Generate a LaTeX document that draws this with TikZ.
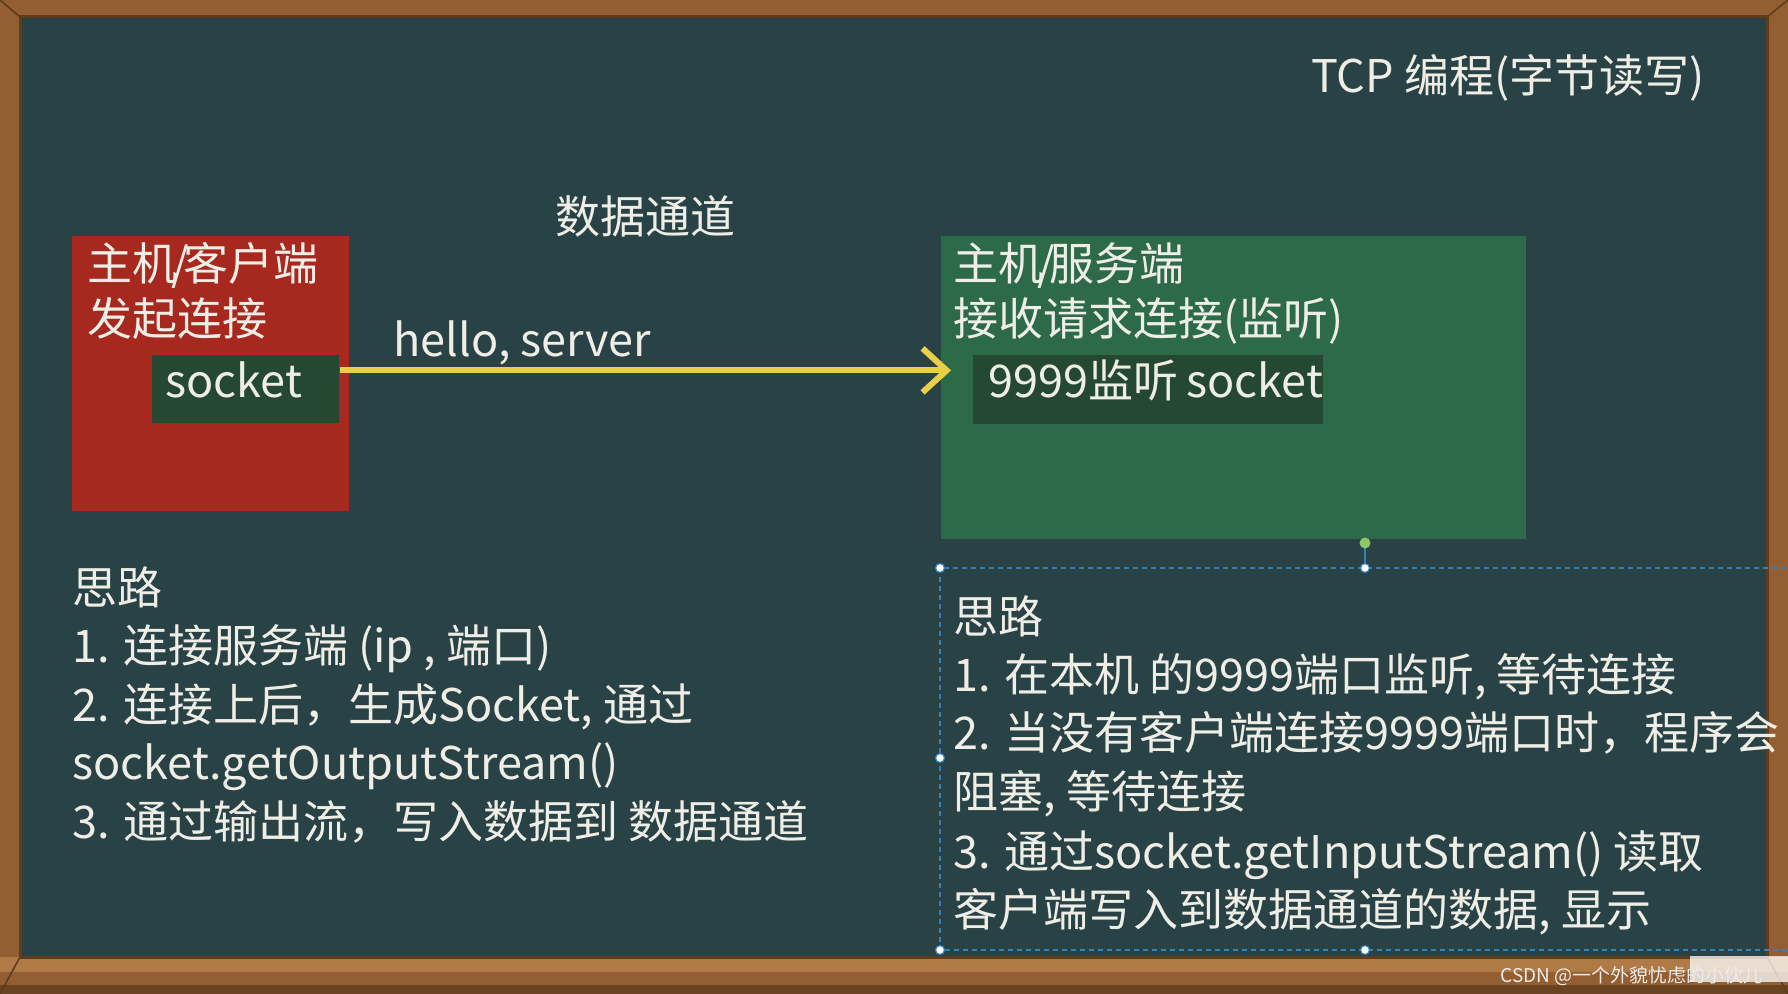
\documentclass[tikz,border=0pt]{standalone}
\usepackage{fontspec}
\setmainfont{Noto Sans CJK SC}
\usetikzlibrary{arrows.meta}
\definecolor{board}{RGB}{41,66,69}
\definecolor{wood}{RGB}{146,94,50}
\definecolor{wooddark}{RGB}{96,60,30}
\definecolor{woodlight}{RGB}{176,122,70}
\definecolor{redbox}{RGB}{166,40,30}
\definecolor{greenbox}{RGB}{44,106,72}
\definecolor{sockdark}{RGB}{36,72,50}
\definecolor{chalk}{RGB}{238,238,230}
\definecolor{yarrowc}{RGB}{234,208,72}
\definecolor{selblue}{RGB}{52,128,186}
\definecolor{handlegreen}{RGB}{140,200,100}
\newcommand{\slsh}{\kern-3pt/\kern-3pt}
\begin{document}
\begin{tikzpicture}[x=0.5pt,y=-0.5pt,
  txt/.style={text=chalk, font=\fontsize{22.5}{27}\selectfont, inner sep=0pt, anchor=base west},
  box/.style={inner sep=0pt, anchor=north west, draw=none},
  yarrow/.style={draw=yarrowc, line width=3pt, -{Straight Barb[length=12pt,width=22pt,line width=3pt]}},
  selbox/.style={draw=selblue, line width=0.8pt, dash pattern=on 2.5pt off 2pt},
  handle/.style={circle, fill=white, draw=selblue, line width=0.6pt, inner sep=0pt, minimum size=4.5pt},
]
\useasboundingbox (0,0) rectangle (1788,994);
% wooden frame
\fill[wood] (0,0) rectangle (1788,994);
\fill[woodlight] (0,957) rectangle (1788,972);
\fill[wooddark!80!wood] (0,985) rectangle (1788,994);
\draw[wooddark, line width=0.8pt] (0,0) -- (20,17) (1788,0) -- (1767,17) (0,994) -- (20,957) (1788,994) -- (1767,957);
\fill[board] (20,17) rectangle (1767,957);
\draw[wooddark, line width=1.5pt] (20,17) rectangle (1767,957);

% title
\node[txt, anchor=base east] (title) at (1705,93) {TCP 编程(字节读写)};
\node[txt, anchor=base] (chan) at (645,234) {数据通道};

% client box
\node[box, fill=redbox, minimum width=138.5pt, minimum height=137.5pt] (client) at (72,236) {};
\node[txt] (clientA) at (87,281) {主机\slsh 客户端};
\node[txt] (clientB) at (87,336) {发起连接};
\node[box, fill=sockdark, minimum width=93.5pt, minimum height=34pt] (sockL) at (152,355) {};
\node[txt] (sockLt) at (165,398) {socket};

% server box
\node[box, fill=greenbox, minimum width=292.5pt, minimum height=151.5pt] (server) at (941,236) {};
\node[txt] (serverA) at (953,281) {主机\slsh 服务端};
\node[txt] (serverB) at (953,336) {接收请求连接(监听)};
\node[box, fill=sockdark, minimum width=175pt, minimum height=34.5pt] (sockR) at (973,355) {};
\node[txt] (sockRt) at (988,398) {9999监听\kern-1pt{} socket};

% arrow
\node[txt] (hello) at (393,357) {hello, server};
\draw[yarrow] ([yshift=9.5pt]sockL.east) -- ([xshift=5pt,yshift=8.75pt]server.west);

% left list
\node[txt] (l0) at (72,604) {思路};
\node[txt] (l1) at (72,662) {1. 连接服务端 (ip , 端口)};
\node[txt] (l2) at (72,721) {2. 连接上后，生成Socket, 通过};
\node[txt] (l3) at (72,779) {socket.getOutputStream()};
\node[txt] (l4) at (72,838) {3. 通过输出流，写入数据到 数据通道};

% selection box
\begin{scope}
\clip (0,0) rectangle (1788,994);
\draw[selbox] (940,568) rectangle (1800,950);
\end{scope}
\coordinate (rot) at (1365,543);
\node[handle] (hTL) at (940,568) {};
\node[handle] (hT) at (1365,568) {};
\node[handle] (hL) at (940,758) {};
\node[handle] (hBL) at (940,950) {};
\node[handle] (hB) at (1365,950) {};
\draw[selblue, line width=0.6pt] (rot) -- (hT);
\node[circle, fill=handlegreen, inner sep=0pt, minimum size=5.5pt] (hRot) at (rot) {};

% right list
\node[txt] (r0) at (953,633) {思路};
\node[txt] (r1) at (953,691) {1. 在本机 的9999端口监听, 等待连接};
\node[txt] (r2) at (953,749) {2. 当没有客户端连接9999端口时，程序会};
\node[txt] (r3) at (953,808) {阻塞, 等待连接};
\node[txt] (r4) at (953,868) {3. 通过socket.getInputStream() 读取};
\node[txt] (r5) at (953,926) {客户端写入到数据通道的数据, 显示};

% watermark
\fill[white, opacity=0.75] (1690,956) rectangle (1788,982);
\node[inner sep=0pt, anchor=base west, text=gray!15, font=\fontsize{9.5}{11}\selectfont] (wm) at (1500,982) {CSDN @一个外貌忧虑的小伙儿};
\end{tikzpicture}
\end{document}
